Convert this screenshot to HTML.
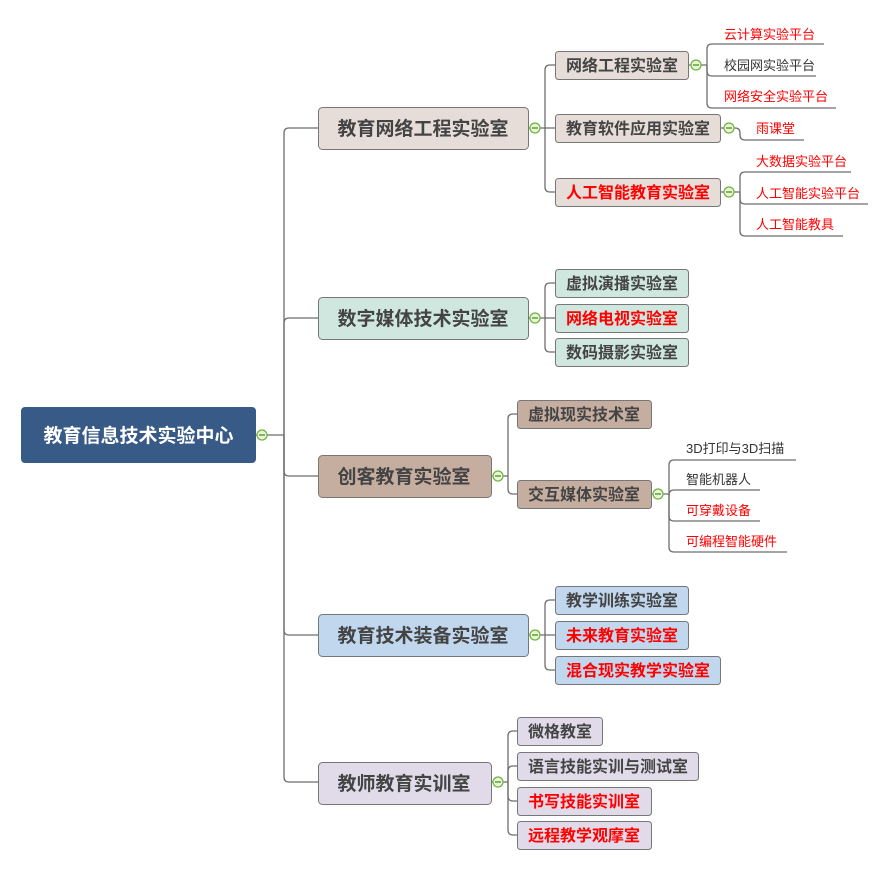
<!DOCTYPE html>
<html><head><meta charset="utf-8"><style>
html,body{margin:0;padding:0;background:#fff;}
svg{display:block;}
text{font-family:"Liberation Sans","Noto Sans CJK SC",sans-serif;}
.l1{font-size:19px;font-weight:bold;fill:#444;}
.l2{font-size:16px;font-weight:bold;fill:#444;}
.lf{font-size:13px;fill:#333;}
text.r{fill:#f00;}
.ln{fill:none;stroke:#6e6e6e;stroke-width:1.3;}
.bx{stroke:#777;stroke-width:1;}
</style></head><body>
<svg width="891" height="871" viewBox="0 0 891 871" xmlns="http://www.w3.org/2000/svg">
<g class="ln">
<path d="M256,435 H284"/>
<path d="M284,435 V133 Q284,128 289,128 H318"/>
<path d="M284,435 V323 Q284,318 289,318 H318"/>
<path d="M284,435 V471 Q284,476 289,476 H318"/>
<path d="M284,435 V630 Q284,635 289,635 H318"/>
<path d="M284,435 V777 Q284,782 289,782 H318"/>
<path d="M528,128 H555"/>
<path d="M545,128 V70 Q545,65 550,65 H555"/>
<path d="M545,128 V187 Q545,192 550,192 H555"/>
<path d="M688,65 H707"/>
<path d="M707,65 V49 Q707,44 712,44 H824"/>
<path d="M707,65 V71 Q707,76 712,76 H816"/>
<path d="M707,65 V103 Q707,108 712,108 H836"/>
<path d="M720,128 H735 Q740,128 740,133 V135 Q740,140 745,140 H804"/>
<path d="M720,192 H740"/>
<path d="M740,192 V177 Q740,172 745,172 H851"/>
<path d="M740,192 V199 Q740,204 745,204 H868"/>
<path d="M740,192 V231 Q740,236 745,236 H843"/>
<path d="M528,318 H555"/>
<path d="M545,318 V288 Q545,283 550,283 H555"/>
<path d="M545,318 V347 Q545,352 550,352 H555"/>
<path d="M491,476 H508"/>
<path d="M508,476 V419 Q508,414 513,414 H517"/>
<path d="M508,476 V489 Q508,494 513,494 H517"/>
<path d="M651,494 H669"/>
<path d="M669,494 V465 Q669,460 674,460 H796"/>
<path d="M669,494 V495 Q669,490 674,490 H760"/>
<path d="M669,494 V516 Q669,521 674,521 H760"/>
<path d="M669,494 V547 Q669,552 674,552 H787"/>
<path d="M528,635 H555"/>
<path d="M545,635 V605 Q545,600 550,600 H555"/>
<path d="M545,635 V665 Q545,670 550,670 H555"/>
<path d="M491,782 H508"/>
<path d="M508,782 V736 Q508,731 513,731 H517"/>
<path d="M508,782 V771 Q508,766 513,766 H517"/>
<path d="M508,782 V796 Q508,801 513,801 H517"/>
<path d="M508,782 V830 Q508,835 513,835 H517"/>
</g>

<rect x="21" y="407" width="235" height="56" rx="4" fill="#375a87"/>
<text x="138.5" y="442" text-anchor="middle" font-size="19" font-weight="bold" fill="#fff">教育信息技术实验中心</text>

<rect class="bx" x="318.5" y="107.5" width="210" height="42" rx="4" fill="#e6ddd8"/>
<text class="l1" x="423" y="135" text-anchor="middle">教育网络工程实验室</text>
<rect class="bx" x="318.5" y="297.5" width="210" height="42" rx="4" fill="#d0e7e0"/>
<text class="l1" x="423" y="325" text-anchor="middle">数字媒体技术实验室</text>
<rect class="bx" x="318.5" y="455.5" width="173" height="42" rx="4" fill="#c5ae9f"/>
<text class="l1" x="404" y="483" text-anchor="middle">创客教育实验室</text>
<rect class="bx" x="318.5" y="614.5" width="210" height="42" rx="4" fill="#c0d7ee"/>
<text class="l1" x="423" y="642" text-anchor="middle">教育技术装备实验室</text>
<rect class="bx" x="318.5" y="762.5" width="173" height="42" rx="4" fill="#e1dbe9"/>
<text class="l1" x="404" y="790" text-anchor="middle">教师教育实训室</text>

<g>
<rect class="bx" x="555.5" y="51.5" width="133" height="28" rx="3" fill="#e6ddd8"/>
<text class="l2" x="622" y="71" text-anchor="middle">网络工程实验室</text>
<rect class="bx" x="555.5" y="114.5" width="165" height="28" rx="3" fill="#e6ddd8"/>
<text class="l2" x="638" y="134" text-anchor="middle">教育软件应用实验室</text>
<rect class="bx" x="555.5" y="178.5" width="165" height="28" rx="3" fill="#e6ddd8"/>
<text class="l2 r" x="638" y="198" text-anchor="middle">人工智能教育实验室</text>

<rect class="bx" x="555.5" y="269.5" width="133" height="28" rx="3" fill="#d0e7e0"/>
<text class="l2" x="622" y="289" text-anchor="middle">虚拟演播实验室</text>
<rect class="bx" x="555.5" y="304.5" width="133" height="28" rx="3" fill="#d0e7e0"/>
<text class="l2 r" x="622" y="324" text-anchor="middle">网络电视实验室</text>
<rect class="bx" x="555.5" y="338.5" width="133" height="28" rx="3" fill="#d0e7e0"/>
<text class="l2" x="622" y="358" text-anchor="middle">数码摄影实验室</text>

<rect class="bx" x="517.5" y="400.5" width="134" height="28" rx="3" fill="#c5ae9f"/>
<text class="l2" x="584" y="420" text-anchor="middle">虚拟现实技术室</text>
<rect class="bx" x="517.5" y="480.5" width="134" height="28" rx="3" fill="#c5ae9f"/>
<text class="l2" x="584" y="500" text-anchor="middle">交互媒体实验室</text>

<rect class="bx" x="555.5" y="586.5" width="133" height="28" rx="3" fill="#c0d7ee"/>
<text class="l2" x="622" y="606" text-anchor="middle">教学训练实验室</text>
<rect class="bx" x="555.5" y="621.5" width="133" height="28" rx="3" fill="#c0d7ee"/>
<text class="l2 r" x="622" y="641" text-anchor="middle">未来教育实验室</text>
<rect class="bx" x="555.5" y="656.5" width="165" height="28" rx="3" fill="#c0d7ee"/>
<text class="l2 r" x="638" y="676" text-anchor="middle">混合现实教学实验室</text>

<rect class="bx" x="517.5" y="717.5" width="85" height="28" rx="3" fill="#e1dbe9"/>
<text class="l2" x="560" y="737" text-anchor="middle">微格教室</text>
<rect class="bx" x="517.5" y="752.5" width="181" height="28" rx="3" fill="#e1dbe9"/>
<text class="l2" x="608" y="772" text-anchor="middle">语言技能实训与测试室</text>
<rect class="bx" x="517.5" y="787.5" width="134" height="28" rx="3" fill="#e1dbe9"/>
<text class="l2 r" x="584" y="807" text-anchor="middle">书写技能实训室</text>
<rect class="bx" x="517.5" y="821.5" width="134" height="28" rx="3" fill="#e1dbe9"/>
<text class="l2 r" x="584" y="841" text-anchor="middle">远程教学观摩室</text>
</g>

<text class="lf r" x="724" y="39">云计算实验平台</text>
<text class="lf" x="724" y="70">校园网实验平台</text>
<text class="lf r" x="724" y="101">网络安全实验平台</text>
<text class="lf r" x="756" y="133">雨课堂</text>
<text class="lf r" x="756" y="166">大数据实验平台</text>
<text class="lf r" x="756" y="198">人工智能实验平台</text>
<text class="lf r" x="756" y="229">人工智能教具</text>
<text class="lf" x="686" y="453">3D打印与3D扫描</text>
<text class="lf" x="686" y="484">智能机器人</text>
<text class="lf r" x="686" y="515">可穿戴设备</text>
<text class="lf r" x="686" y="546">可编程智能硬件</text>

<g fill="#e9f6d6" stroke="#6cb33f" stroke-width="1.2">
<circle cx="262" cy="435" r="5"/>
<circle cx="535" cy="128" r="5"/>
<circle cx="696" cy="65" r="5"/>
<circle cx="729" cy="128" r="5"/>
<circle cx="729" cy="192" r="5"/>
<circle cx="535" cy="318" r="5"/>
<circle cx="498" cy="476" r="5"/>
<circle cx="658" cy="494" r="5"/>
<circle cx="535" cy="635" r="5"/>
<circle cx="498" cy="782" r="5"/>
</g>
<g stroke="#4a8a25" stroke-width="1.2">
<path d="M259,435 H265 M532,128 H538 M693,65 H699 M726,128 H732 M726,192 H732 M532,318 H538 M495,476 H501 M655,494 H661 M532,635 H538 M495,782 H501"/>
</g>
</svg>
</body></html>
